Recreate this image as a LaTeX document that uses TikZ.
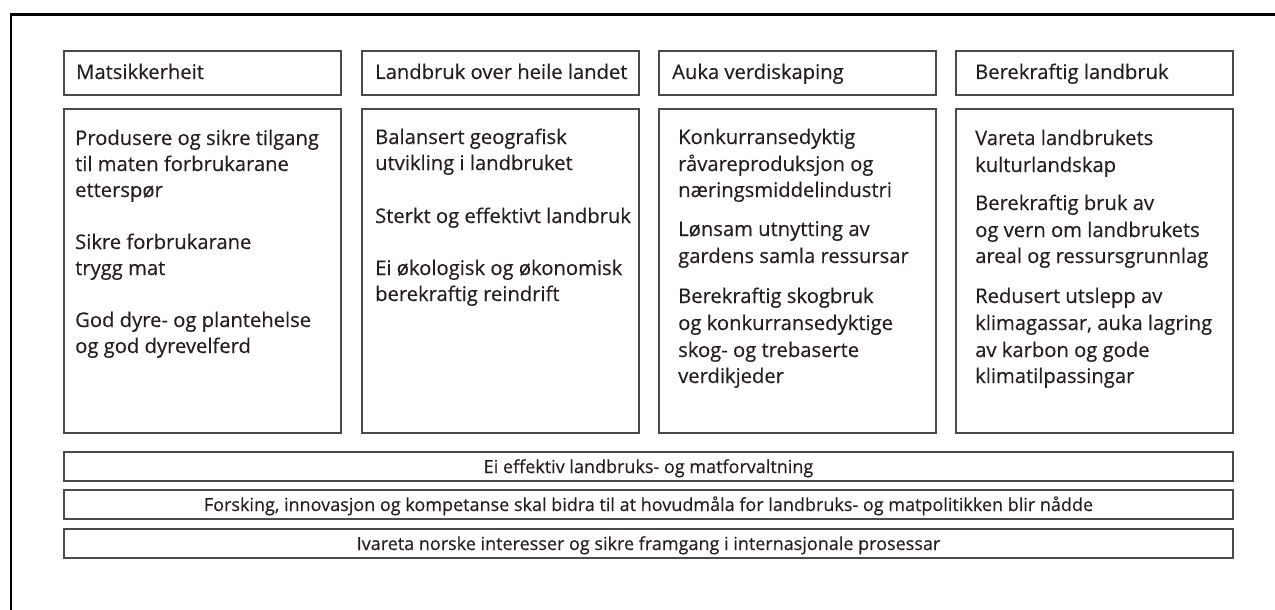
\documentclass[tikz,border=0pt]{standalone}
\usepackage{fontspec}
\setmainfont[FakeBold=0.35]{Open Sans}
\definecolor{inkc}{HTML}{231F20}
\definecolor{linec}{HTML}{4A4A4A}
\begin{document}
\begin{tikzpicture}[x=1pt,y=-1pt,
  box/.style={draw=linec,line width=1.2pt,inner sep=0pt,minimum height=#1},
  txt/.style={inner sep=0pt,anchor=base west,text=inkc,font=\fontsize{20.2}{26}\selectfont},
  ctxt/.style={inner sep=0pt,anchor=base,text=inkc,font=\fontsize{18}{24}\selectfont}]
\useasboundingbox (0,0) rectangle (1275,610);
% outer frame
\coordinate (fb) at (11,610);
\coordinate (ftl) at (11,14.5);
\coordinate (ftr) at (1275,14.5);
\draw[line width=2.4pt,black] (fb) -- (ftl) -- (ftr);
% header boxes
\foreach \n/\x in {1/64,2/362,3/659,4/956}{
  \node[box=44pt,minimum width=277pt] (h\n) at (\x+138.5,73) {};
  \node[box=324pt,minimum width=277pt] (b\n) at (\x+138.5,271) {};
}
\node[txt] (h1t) at (76,79) {Matsikkerheit};
\node[txt] (h2t) at (375,79) {Landbruk over heile landet};
\node[txt] (h3t) at (672,79) {Auka verdiskaping};
\node[txt] (h4t) at (975,79) {Berekraftig landbruk};
% column 1
\foreach \y/\t [count=\i] in {145/Produsere og sikre tilgang,171/til maten forbrukarane,197/etterspør,249/Sikre forbrukarane,275/trygg mat,327/God dyre- og plantehelse,353/og god dyrevelferd}
  \node[txt] (ca\i) at (75,\y) {\t};
% column 2
\foreach \y/\t [count=\i] in {144/Balansert geografisk,170/utvikling i landbruket,223/Sterkt og effektivt landbruk,275/Ei økologisk og økonomisk,301/berekraftig reindrift}
  \node[txt] (cb\i) at (375,\y) {\t};
% column 3
\foreach \y/\t [count=\i] in {144/Konkurransedyktig,171/råvareproduksjon og,197/næringsmiddelindustri,236/Lønsam utnytting av,263/gardens samla ressursar,303/Berekraftig skogbruk,330/og konkurransedyktige,357/skog- og trebaserte,383/verdikjeder}
  \node[txt] (cc\i) at (678,\y) {\t};
% column 4
\foreach \y/\t [count=\i] in {145/Vareta landbrukets,172/kulturlandskap,210/Berekraftig bruk av,237/og vern om landbrukets,263/areal og ressursgrunnlag,303/Redusert utslepp av,{330/klimagassar, auka lagring},357/av karbon og gode,383/klimatilpassingar}
  \node[txt] (cd\i) at (975,\y) {\t};
% bars
\node[box=29pt,minimum width=1169pt] (r1) at (648.5,466.5) {};
\node[box=29pt,minimum width=1169pt] (r2) at (648.5,504.5) {};
\node[box=29pt,minimum width=1169pt] (r3) at (648.5,543.5) {};
\node[ctxt] (r1t) at (648.5,473) {Ei effektiv landbruks- og matforvaltning};
\node[ctxt] (r2t) at (648.5,511) {Forsking, innovasjon og kompetanse skal bidra til at hovudmåla for landbruks- og matpolitikken blir nådde};
\node[ctxt] (r3t) at (648.5,550) {Ivareta norske interesser og sikre framgang i internasjonale prosessar};
\end{tikzpicture}
\end{document}
